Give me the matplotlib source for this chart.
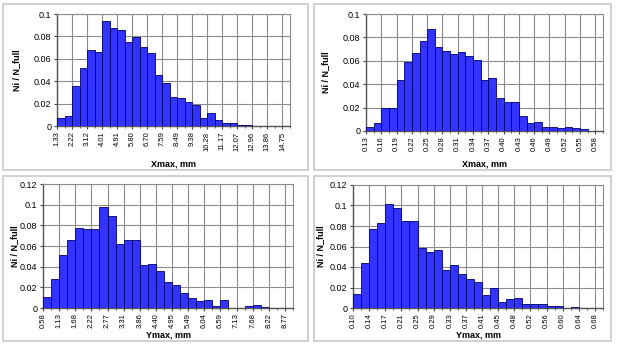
import numpy as np
import matplotlib.pyplot as plt
from matplotlib.patches import Rectangle

plt.rcParams['font.family'] = ['Liberation Sans', 'DejaVu Sans']

xmax1_labels = ['1.33', '2.22', '3.12', '4.01', '4.91', '5.80', '6.70', '7.59', '8.49', '9.38',
                '10.28', '11.17', '12.07', '12.96', '13.86', '14.75']
xmax1_vals = [0.0068, 0.0089, 0.036, 0.052, 0.068, 0.0664, 0.0935, 0.0875, 0.0854, 0.0753,
              0.0792, 0.0702, 0.0652, 0.0458, 0.0384, 0.0262, 0.025, 0.0211, 0.0185, 0.0068,
              0.0119, 0.005, 0.003, 0.003, 0.001, 0.001, 0, 0, 0, 0, 0]

xmax2_labels = ['0.13', '0.16', '0.19', '0.22', '0.25', '0.28', '0.31', '0.34', '0.37', '0.40',
                '0.43', '0.46', '0.49', '0.52', '0.55', '0.58']
xmax2_vals = [0.0034, 0.0066, 0.0198, 0.0198, 0.0433, 0.059, 0.067, 0.0768, 0.087, 0.0722,
              0.0688, 0.0659, 0.0679, 0.0642, 0.0607, 0.0433, 0.0456, 0.0278, 0.0249, 0.0249,
              0.0126, 0.0066, 0.0074, 0.0037, 0.0037, 0.0029, 0.0037, 0.0029, 0.0017, 0, 0]

ymax1_labels = ['0.58', '1.13', '1.68', '2.22', '2.77', '3.31', '3.86', '4.40', '4.95', '5.49',
                '6.04', '6.59', '7.13', '7.68', '8.22', '8.77']
ymax1_vals = [0.0107, 0.0278, 0.0517, 0.0657, 0.0776, 0.0766, 0.0766, 0.0973, 0.0889, 0.0618,
              0.0657, 0.0657, 0.0417, 0.043, 0.0359, 0.0252, 0.0226, 0.0142, 0.01, 0.0065,
              0.0078, 0.0019, 0.0078, 0, 0, 0.0016, 0.0029, 0.0007, 0, 0.0004, 0]

ymax2_labels = ['0.10', '0.14', '0.17', '0.21', '0.25', '0.29', '0.33', '0.37', '0.41', '0.45',
                '0.48', '0.52', '0.56', '0.60', '0.64', '0.68']
ymax2_vals = [0.0133, 0.0439, 0.0774, 0.0829, 0.1015, 0.0976, 0.0846, 0.0852, 0.0589, 0.055,
              0.0566, 0.0371, 0.0416, 0.0328, 0.0286, 0.0257, 0.0127, 0.0195, 0.0059, 0.0088,
              0.0098, 0.0036, 0.0036, 0.0036, 0.0016, 0.0016, 0, 0.0006, 0, 0, 0]

W, H = 618, 344
fig = plt.figure(figsize=(W / 100, H / 100), dpi=100)


def px_axes(x0, y0, x1, y1):
    return fig.add_axes([x0 / W, 1 - y1 / H, (x1 - x0) / W, (y1 - y0) / H])


def box(x0, y0, x1, y1):
    fig.patches.append(Rectangle((x0 / W, 1 - y1 / H), (x1 - x0) / W, (y1 - y0) / H,
                                 transform=fig.transFigure, fill=False,
                                 edgecolor='#c8c8c8', lw=1.2))


def panel(ax, vals, labels, xlabel, ytop, ylab_x, xlab_y):
    n = len(vals)
    ax.bar(np.arange(n), vals, width=1, align='edge', color='#3333ff',
           edgecolor='#00006e', lw=0.6, zorder=3)
    ax.set_xlim(0, n)
    ax.set_ylim(0, ytop)
    ax.set_xticks(np.arange(0, n, 2))
    ax.set_xticklabels(labels, rotation=90, fontsize=5.5)
    ax.set_xticks(np.arange(0, n + 1), minor=True)
    yt = np.arange(0, ytop + 1e-9, 0.02)
    ax.set_yticks(yt)
    ax.set_yticklabels(['0' if v == 0 else ('%.2f' % v).rstrip('0') for v in yt], fontsize=6.5)
    ax.grid(True, axis='both', which='major', color='#8c8c8c', lw=0.8, zorder=0)
    ax.tick_params(axis='both', which='major', length=2.5, width=0.8, pad=1.5, color='#444444')
    ax.tick_params(axis='x', which='minor', length=1.5, width=0.6, color='#444444')
    for s in ['top', 'right']:
        ax.spines[s].set_color('#8c8c8c')
        ax.spines[s].set_linewidth(0.8)
    for s in ['left', 'bottom']:
        ax.spines[s].set_color('#555555')
        ax.spines[s].set_linewidth(1.0)
    ax.set_ylabel('Ni / N_full', fontsize=6.5, fontweight='bold')
    ax.yaxis.set_label_coords(ylab_x, 0.5)
    ax.set_xlabel(xlabel, fontsize=6.5, fontweight='bold')
    ax.xaxis.set_label_coords(0.5, xlab_y)


box(3, 4, 308, 170)
box(314, 4, 611, 170)
box(3, 176, 308, 341)
box(314, 176, 611, 341)

ax1 = px_axes(57, 14, 290, 126)
panel(ax1, xmax1_vals, xmax1_labels, 'Xmax, mm', 0.1, -0.155, -0.295)
ax2 = px_axes(366, 14, 603, 131)
panel(ax2, xmax2_vals, xmax2_labels, 'Xmax, mm', 0.1, -0.152, -0.24)
ax3 = px_axes(43, 184, 293, 308)
panel(ax3, ymax1_vals, ymax1_labels, 'Ymax, mm', 0.12, -0.097, -0.185)
ax4 = px_axes(353, 185, 603, 308)
panel(ax4, ymax2_vals, ymax2_labels, 'Ymax, mm', 0.12, -0.11, -0.185)

fig.savefig('out.png', dpi=100)
plt.close()
